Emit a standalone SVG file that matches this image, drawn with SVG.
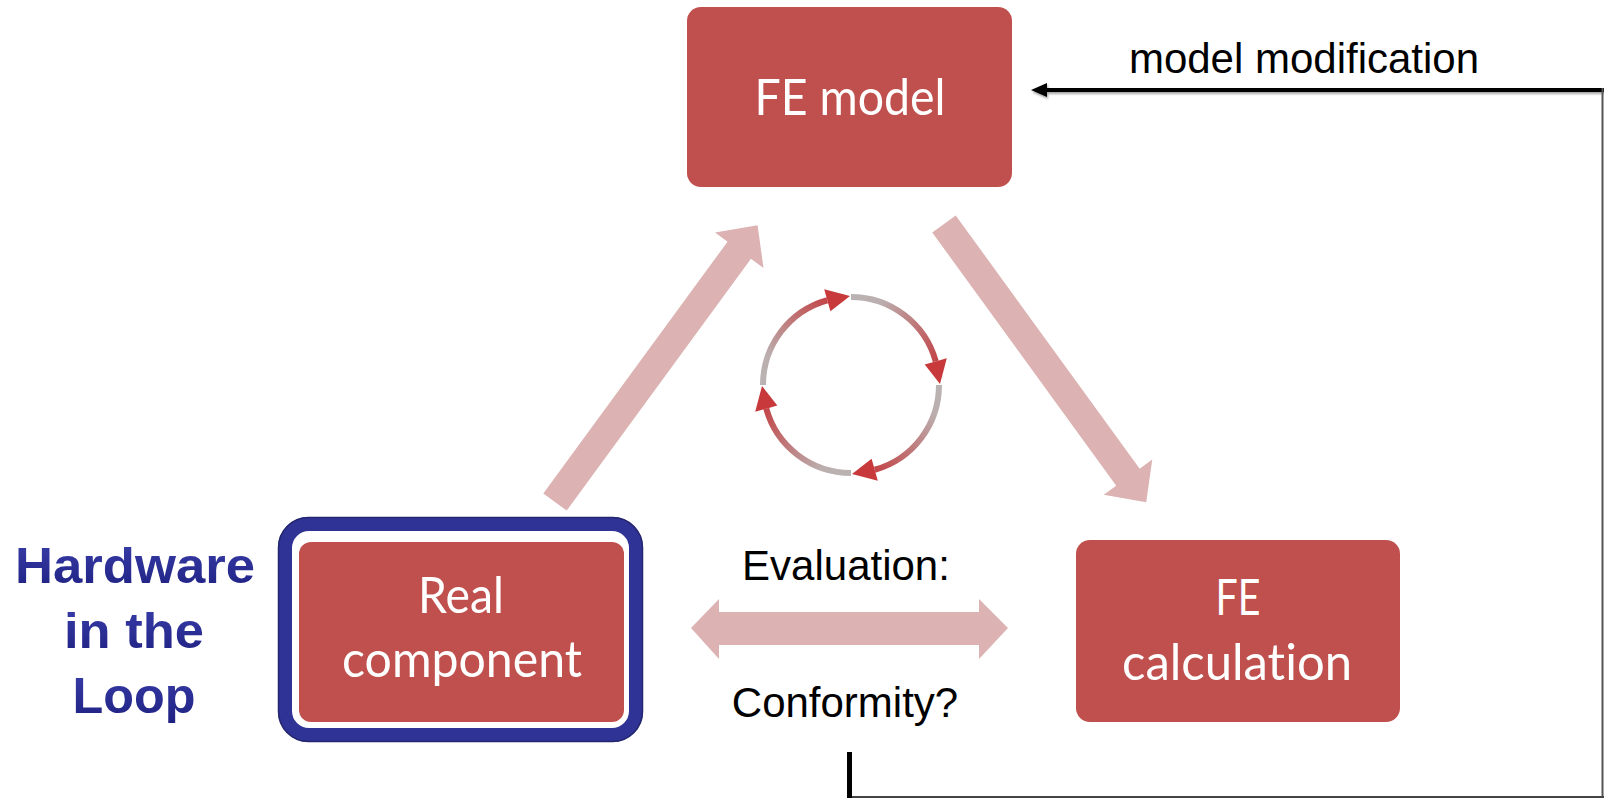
<svg xmlns="http://www.w3.org/2000/svg" width="1604" height="798" viewBox="0 0 1604 798">
  <style>
    .box { fill: #C0504D; }
    .boxtxt { font-family: Lato, "Open Sans", "Liberation Sans", sans-serif; font-size: 50px; fill: #ffffff; text-anchor: middle; font-variant-ligatures: none; }
    .lbl { font-family: "Liberation Sans", Arial, sans-serif; font-size: 42px; fill: #000000; text-anchor: middle; }
    .hil { font-family: "Liberation Sans", Arial, sans-serif; font-weight: bold; font-size: 50px; fill: url(#navyGrad); text-anchor: middle; }
    .bigarrow { fill: #DCB2B2; }
    .wire { stroke: #000000; fill: none; }
  </style>
  <defs>
    <linearGradient id="navyGrad" x1="0" y1="0" x2="0" y2="1">
      <stop offset="0" stop-color="#3a3eaa"/>
      <stop offset="1" stop-color="#1e2080"/>
    </linearGradient>
    <linearGradient id="cycGrad" gradientUnits="userSpaceOnUse" x1="0" y1="-88" x2="85" y2="-24">
      <stop offset="0" stop-color="#bab3b3"/>
      <stop offset="0.25" stop-color="#bbaeae"/>
      <stop offset="1" stop-color="#c2474a"/>
    </linearGradient>
    <filter id="shadow" x="-5%" y="-50%" width="110%" height="300%">
      <feDropShadow dx="1" dy="2" stdDeviation="1.2" flood-color="#000" flood-opacity="0.35"/>
    </filter>
  </defs>

  <rect x="0" y="0" width="1604" height="798" fill="#ffffff"/>

  <g id="connectors">
    <!-- big diagonal arrows -->
    <polygon class="bigarrow" transform="translate(555,502) rotate(-53.8)" points="0,-14.5 312,-14.5 312,-30 343,0 312,30 312,14.5 0,14.5"/>
    <polygon class="bigarrow" transform="translate(944,224) rotate(54)" points="0,-14.5 313,-14.5 313,-30 344,0 313,30 313,14.5 0,14.5"/>
    <!-- double arrow -->
    <polygon class="bigarrow" points="691,628 719,599 719,612 979,612 979,599 1008,628 979,659 979,645 719,645 719,659"/>
    <!-- cycle -->
    <g id="cycle" transform="translate(851,385)">
      <g id="seg">
        <path d="M 0 -88 A 88 88 0 0 1 84.75 -23.67" fill="none" stroke="url(#cycGrad)" stroke-width="6"/>
        <polygon points="95.8,-26.8 73.7,-20.6 89,-1" fill="#C8393B"/>
      </g>
      <use href="#seg" transform="rotate(90)"/>
      <use href="#seg" transform="rotate(180)"/>
      <use href="#seg" transform="rotate(270)"/>
    </g>
    <!-- feedback loop -->
    <g filter="url(#shadow)">
      <line class="wire" x1="1604" y1="90" x2="1042" y2="90" stroke-width="4"/>
      <polygon points="1031,90 1047,83 1047,97" fill="#000"/>
    </g>
    <line x1="1602.5" y1="88" x2="1602.5" y2="798" stroke="#555" stroke-width="2"/>
    <line x1="849" y1="797" x2="1604" y2="797" stroke="#444" stroke-width="2"/>
    <line x1="849.5" y1="752" x2="849.5" y2="798" stroke="#000" stroke-width="5"/>
  </g>

  <g id="fe-model">
    <rect class="box" x="687" y="7" width="325" height="180" rx="14"/>
    <text class="boxtxt" x="850" y="115" textLength="191" lengthAdjust="spacingAndGlyphs">FE model</text>
  </g>

  <g id="fe-calculation">
    <rect class="box" x="1076" y="540" width="324" height="182" rx="14"/>
    <text class="boxtxt" x="1238" y="615" textLength="45" lengthAdjust="spacingAndGlyphs">FE</text>
    <text class="boxtxt" x="1237" y="680" textLength="230" lengthAdjust="spacingAndGlyphs">calculation</text>
  </g>

  <g id="real-component">
    <rect x="285" y="524" width="351" height="211" rx="24" fill="#ffffff" stroke="#303396" stroke-width="14"/>
    <rect x="278.5" y="517.5" width="364" height="224" rx="30" fill="none" stroke="#24266f" stroke-width="1.5"/>
    <rect class="box" x="299" y="542" width="325" height="180" rx="12"/>
    <text class="boxtxt" x="461" y="613" textLength="86" lengthAdjust="spacingAndGlyphs">Real</text>
    <text class="boxtxt" x="462" y="677" textLength="240" lengthAdjust="spacingAndGlyphs">component</text>
  </g>

  <g id="hardware-label">
    <text class="hil" x="135" y="583" textLength="240" lengthAdjust="spacingAndGlyphs">Hardware</text>
    <text class="hil" x="134" y="648" textLength="140" lengthAdjust="spacingAndGlyphs">in the</text>
    <text class="hil" x="134" y="713" textLength="123" lengthAdjust="spacingAndGlyphs">Loop</text>
  </g>

  <g id="labels">
    <text class="lbl" x="1304" y="73">model modification</text>
    <text class="lbl" x="846" y="580">Evaluation:</text>
    <text class="lbl" x="845" y="717">Conformity?</text>
  </g>
</svg>
